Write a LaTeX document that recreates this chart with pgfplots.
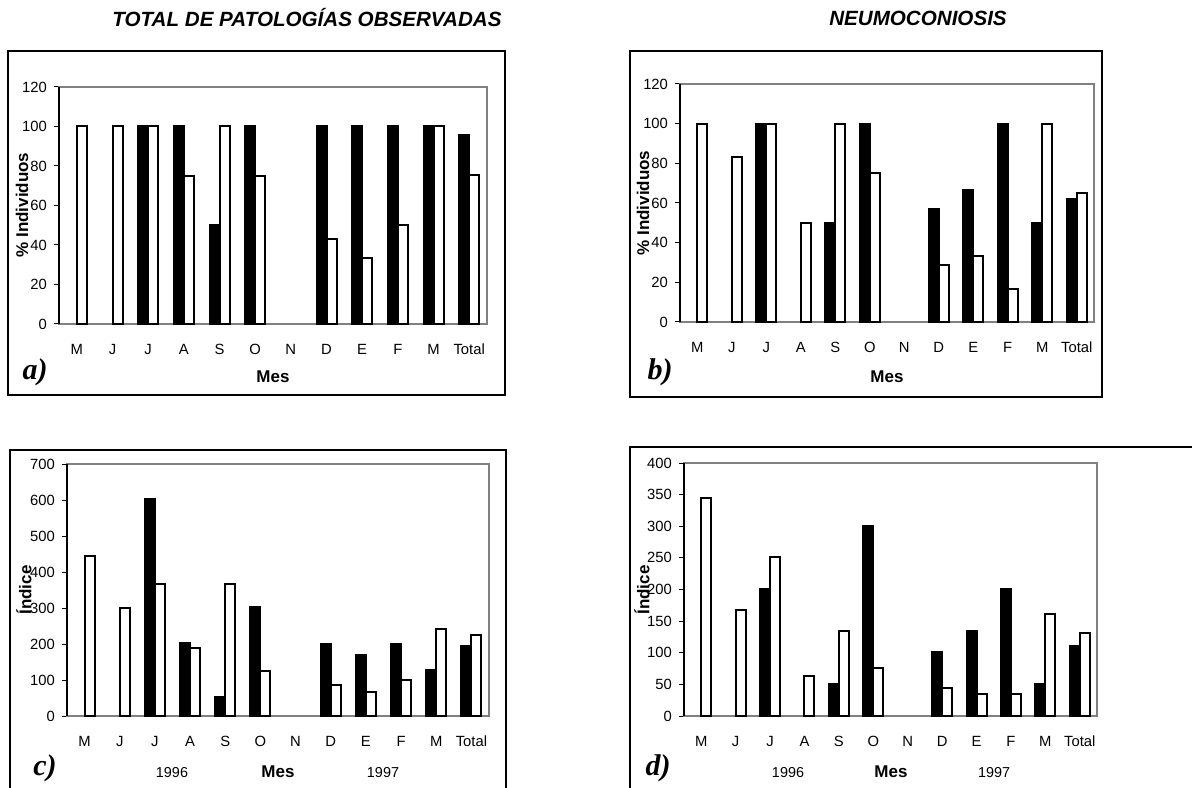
\documentclass[border=0pt]{standalone}
\usepackage{fontspec}
\setmainfont{Liberation Sans}
\newfontfamily\serifbi{Liberation Serif}
\usepackage{pgfplots}
\pgfplotsset{compat=1.18}
\definecolor{frameg}{RGB}{128,128,128}
\pgfplotsset{
 panel/.style={
  scale only axis, ybar=0pt, bar width=5pt,
  xmin=-0.5, xmax=11.5, xtick={0,...,11},
  xticklabels={M,J,J,A,S,O,N,D,E,F,M,Total},
  ymin=0,
  axis line style={draw=frameg, line width=1pt},
  xtick style={draw=none},
  ytick pos=left, tick align=outside,
  ytick style={black, line width=0.5pt},
  major tick length=2.5pt,
  tick label style={font=\fontsize{7.4}{8.5}\selectfont},
  /pgf/number format/assume math mode=true,
  xticklabel style={anchor=center, yshift=-10pt, text height=5.3pt, text depth=0pt},
  clip=false,
 },
 blk/.style={fill=black, draw=black, line width=1pt},
 wht/.style={fill=white, draw=black, line width=1pt},
}
\newcommand{\lab}{\fontsize{8.5}{10}\selectfont\bfseries}
\newcommand{\ttl}{\fontsize{10.3}{12}\selectfont\bfseries\itshape}
\newcommand{\pan}{\fontsize{15}{17}\serifbi\bfseries\itshape}
\newcommand{\yr}{\fontsize{7.2}{8.5}\selectfont}
\begin{document}
\begin{tikzpicture}
\useasboundingbox (0pt,0pt) rectangle (596pt,393.5pt);
\clip (0pt,0pt) rectangle (596pt,393.5pt);
\fill[white] (0pt,0pt) rectangle (596pt,393.5pt);
% frames
\draw[line width=0.9pt] (4pt,368pt) rectangle (252.5pt,196pt);
\draw[line width=0.9pt] (315pt,368pt) rectangle (551pt,195pt);
\draw[line width=0.9pt] (5pt,168.5pt) rectangle (253pt,-16.5pt);
\draw[line width=0.9pt] (315pt,170pt) rectangle (630pt,-16.5pt);
% titles
\node[font=\ttl] at (153.5pt,384.5pt) {TOTAL DE PATOLOGÍAS OBSERVADAS};
\node[font=\ttl] at (459pt,384.5pt) {NEUMOCONIOSIS};

% panel a
\begin{axis}[panel, at={(29.5pt,231.5pt)}, anchor=south west, width=214pt, height=118.5pt,
  ymax=120, ytick={0,20,...,120}]
\addplot[blk] coordinates {(2,100)(3,100)(4,50)(5,100)(7,100)(8,100)(9,100)(10,100)(11,95.5)};
\addplot[wht] coordinates {(0,100)(1,100)(2,100)(3,75)(4,100)(5,75)(7,43)(8,33.3)(9,50)(10,100)(11,75.5)};
\draw[black, line width=0.6pt] (rel axis cs:0,0) -- (rel axis cs:0,1);
\end{axis}
\node[font=\lab, rotate=90] at (11pt,291pt) {\% Individuos};
\node[font=\lab] at (136.5pt,205pt) {Mes};
\node[font=\pan] at (17.5pt,207.5pt) {a)};

% panel b
\begin{axis}[panel, at={(340pt,232.5pt)}, anchor=south west, width=207pt, height=119pt,
  ymax=120, ytick={0,20,...,120}]
\addplot[blk] coordinates {(2,100)(4,50)(5,100)(7,57.1)(8,66.7)(9,100)(10,50)(11,62.2)};
\addplot[wht] coordinates {(0,100)(1,83.3)(2,100)(3,50)(4,100)(5,75)(7,28.6)(8,33.3)(9,16.7)(10,100)(11,64.9)};
\draw[black, line width=0.6pt] (rel axis cs:0,0) -- (rel axis cs:0,1);
\end{axis}
\node[font=\lab, rotate=90] at (321.5pt,292pt) {\% Individuos};
\node[font=\lab] at (443.5pt,205pt) {Mes};
\node[font=\pan] at (330pt,207.5pt) {b)};

% panel c
\begin{axis}[panel, at={(33.5pt,35.5pt)}, anchor=south west, width=211pt, height=126pt,
  ymax=700, ytick={0,100,...,700}]
\addplot[blk] coordinates {(2,602)(3,203)(4,52)(5,302)(7,200)(8,169)(9,200)(10,127)(11,194)};
\addplot[wht] coordinates {(0,444)(1,301)(2,368)(3,190)(4,368)(5,126)(7,87)(8,68)(9,101)(10,241)(11,225)};
\draw[black, line width=0.6pt] (rel axis cs:0,0) -- (rel axis cs:0,1);
\end{axis}
\node[font=\lab, rotate=90] at (12pt,98.5pt) {Índice};
\node[font=\yr] at (86pt,7pt) {1996};
\node[font=\lab] at (139pt,7.5pt) {Mes};
\node[font=\yr] at (191.5pt,7pt) {1997};
\node[font=\pan] at (22.5pt,9.5pt) {c)};

% panel d
\begin{axis}[panel, at={(342pt,35.5pt)}, anchor=south west, width=206.5pt, height=126.5pt,
  ymax=400, ytick={0,50,...,400}]
\addplot[blk] coordinates {(2,201)(4,51)(5,301)(7,101)(8,135)(9,201)(10,51)(11,111)};
\addplot[wht] coordinates {(0,344)(1,167)(2,251)(3,63)(4,134)(5,76)(7,44)(8,34)(9,34)(10,161)(11,132)};
\draw[black, line width=0.6pt] (rel axis cs:0,0) -- (rel axis cs:0,1);
\end{axis}
\node[font=\lab, rotate=90] at (321pt,98.5pt) {Índice};
\node[font=\yr] at (394pt,7pt) {1996};
\node[font=\lab] at (445.5pt,7.5pt) {Mes};
\node[font=\yr] at (497pt,7pt) {1997};
\node[font=\pan] at (329pt,9.5pt) {d)};
\end{tikzpicture}
\end{document}
